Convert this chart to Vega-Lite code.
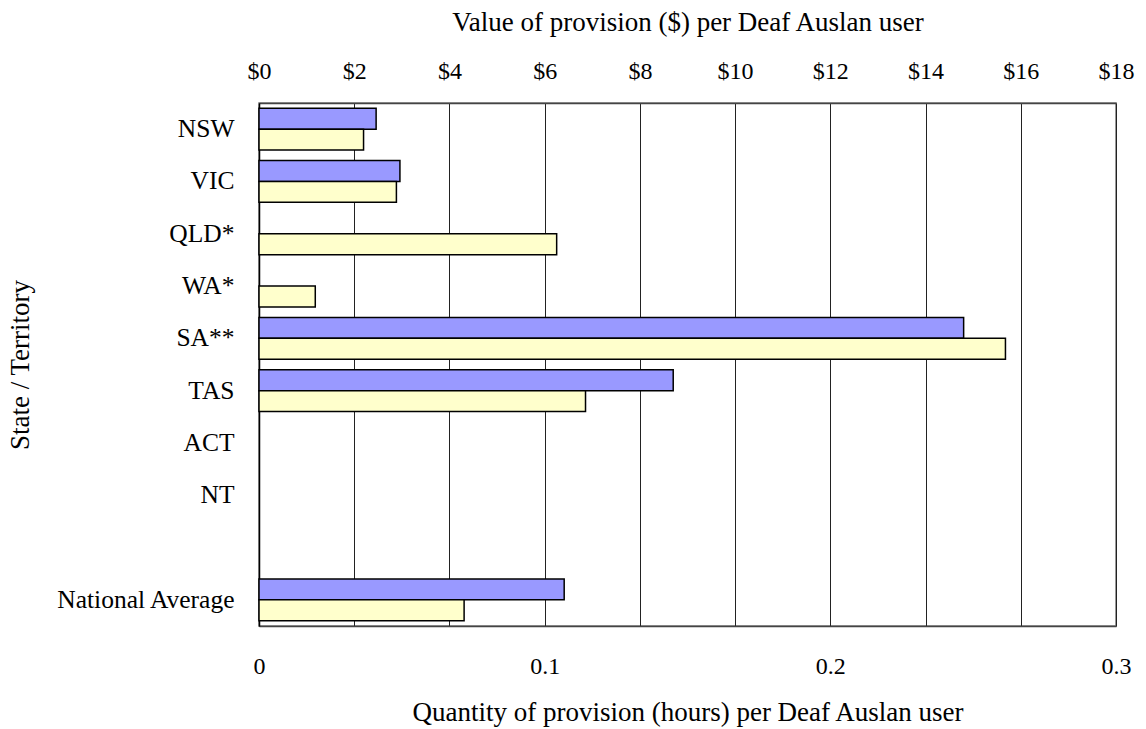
{
  "$schema": "https://vega.github.io/schema/vega-lite/v6.json",
  "autosize": {"type": "none"},
  "padding": {"left": 259, "top": 103, "right": 30, "bottom": 103},
  "width": 857,
  "height": 523,
  "background": "white",
  "config": {
    "font": "Liberation Serif",
    "view": {"stroke": "#777", "strokeWidth": 1.5},
    "axis": {"labelFont": "Liberation Serif", "titleFont": "Liberation Serif", "labelColor": "black", "titleColor": "black", "labelFontSize": 24, "titleFontSize": 27, "titleFontWeight": "normal", "ticks": false}
  },
  "data": {
    "values": [
      {"state": "NSW", "series": "Value", "amount": 2.46},
      {"state": "VIC", "series": "Value", "amount": 2.96},
      {"state": "SA**", "series": "Value", "amount": 14.80},
      {"state": "TAS", "series": "Value", "amount": 8.70},
      {"state": "National Average", "series": "Value", "amount": 6.41},
      {"state": "NSW", "series": "Quantity", "amount": 0.0366},
      {"state": "VIC", "series": "Quantity", "amount": 0.0481},
      {"state": "QLD*", "series": "Quantity", "amount": 0.1042},
      {"state": "WA*", "series": "Quantity", "amount": 0.0197},
      {"state": "SA**", "series": "Quantity", "amount": 0.2613},
      {"state": "TAS", "series": "Quantity", "amount": 0.1143},
      {"state": "National Average", "series": "Quantity", "amount": 0.0718}
    ]
  },
  "encoding": {
    "y": {
      "field": "state",
      "type": "nominal",
      "scale": {"domain": ["NSW", "VIC", "QLD*", "WA*", "SA**", "TAS", "ACT", "NT", " ", "National Average"], "paddingInner": 0.2, "paddingOuter": 0.1},
      "axis": {"title": "State / Territory", "labelFontSize": 25.5, "labelPadding": 25, "domainColor": "black", "domainWidth": 1.5, "titleX": -239, "titleY": 261.5, "titleAngle": -90, "titleBaseline": "middle", "titleAlign": "center"}
    },
    "yOffset": {"field": "series", "type": "nominal", "scale": {"domain": ["Value", "Quantity"], "paddingInner": 0, "paddingOuter": 0}}
  },
  "layer": [
    {
      "transform": [{"filter": "datum.series == 'Value'"}],
      "mark": {"type": "bar", "fill": "#9999FF", "stroke": "black", "strokeWidth": 1.5},
      "encoding": {
        "x": {
          "field": "amount",
          "type": "quantitative",
          "scale": {"domain": [0, 18], "nice": false},
          "axis": {"orient": "top", "title": "Value of provision ($) per Deaf Auslan user", "values": [0, 2, 4, 6, 8, 10, 12, 14, 16, 18], "labelExpr": "'$' + datum.value", "labelPadding": 32, "labelBaseline": "middle", "grid": true, "gridColor": "#222", "gridWidth": 1, "domainColor": "#444", "domainWidth": 1.5, "titleY": -81, "titleBaseline": "middle", "labelFlush": false}
        }
      }
    },
    {
      "transform": [{"filter": "datum.series == 'Quantity'"}],
      "mark": {"type": "bar", "fill": "#FFFFCC", "stroke": "black", "strokeWidth": 1.5},
      "encoding": {
        "x": {
          "field": "amount",
          "type": "quantitative",
          "scale": {"domain": [0, 0.3], "nice": false},
          "axis": {"orient": "bottom", "title": "Quantity of provision (hours) per Deaf Auslan user", "values": [0, 0.1, 0.2, 0.3], "format": ".1~f", "labelPadding": 40, "labelBaseline": "middle", "grid": false, "domainColor": "#444", "domainWidth": 1.5, "titleY": 86, "titleBaseline": "middle", "labelFlush": false}
        }
      }
    }
  ],
  "resolve": {"scale": {"x": "independent"}, "axis": {"x": "independent"}}
}
